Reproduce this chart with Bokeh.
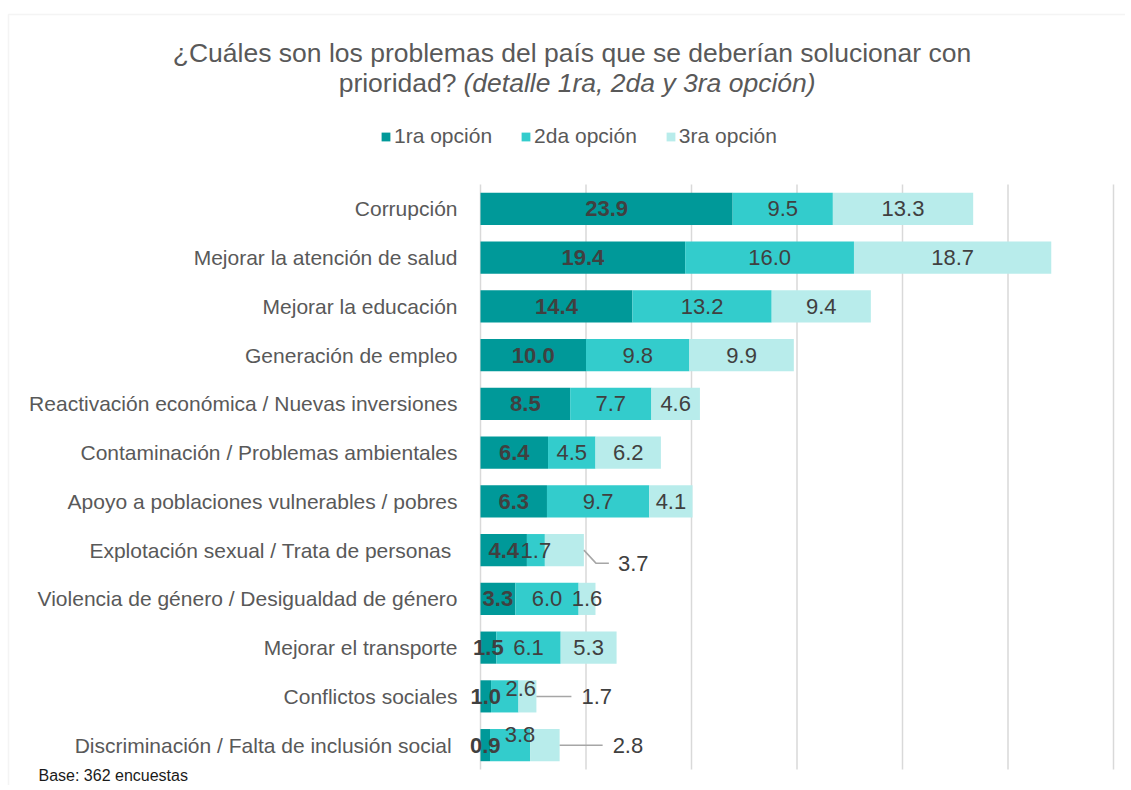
from bokeh.plotting import figure
from bokeh.models import (ColumnDataSource, Range1d, Label, Legend, LegendItem,
                          BoxAnnotation)
from bokeh.core.properties import value
from bokeh.embed import file_html
from bokeh.resources import INLINE

# ---------------- data ----------------
categories = [
    "Corrupción",
    "Mejorar la atención de salud",
    "Mejorar la educación",
    "Generación de empleo",
    "Reactivación económica / Nuevas inversiones",
    "Contaminación / Problemas ambientales",
    "Apoyo a poblaciones vulnerables / pobres",
    "Explotación sexual  / Trata de personas",
    "Violencia de género / Desigualdad de género",
    "Mejorar el transporte",
    "Conflictos sociales",
    "Discriminación  / Falta de inclusión social",
]
opcion1 = [23.9, 19.4, 14.4, 10.0, 8.5, 6.4, 6.3, 4.4, 3.3, 1.5, 1.0, 0.9]
opcion2 = [9.5, 16.0, 13.2, 9.8, 7.7, 4.5, 9.7, 1.7, 6.0, 6.1, 2.6, 3.8]
opcion3 = [13.3, 18.7, 9.4, 9.9, 4.6, 6.2, 4.1, 3.7, 1.6, 5.3, 1.7, 2.8]
series_names = ["1ra opción", "2da opción", "3ra opción"]
x_ticks = [0, 10, 20, 30, 40, 50, 60]

title_line1 = "¿Cuáles son los problemas del país que se deberían solucionar con"
title_line2a = "prioridad?"
title_line2b = "(detalle 1ra, 2da y 3ra opción)"
base_note = "Base: 362 encuestas"

# ---------------- styles / layout ----------------
colors = ["#009999", "#33CCCC", "#B8ECEB"]
FONT = "Liberation Sans"
GRAY = "#595959"
DARK = "#404040"

W, H = 1125, 785
PL, PT, PW, PH = 480, 184, 633, 585      # plot area in canvas pixels
KX = PW / 60.0                           # px per percentage point
n = len(categories)
KY = PH / n                              # px per category row

lab2_dx = {10: 16, 11: 10}
lab2_dy = {10: 8, 11: 11}
callout_rows = {7: (12, 13, 25, 34), 10: (0, 0, 35, 45), 11: (0, 0, 43, 53)}

p = figure(width=W, height=H, output_backend="svg", toolbar_location=None,
           x_axis_type=None, y_axis_type=None, min_border=0,
           x_range=Range1d(-PL / KX, (W - PL) / KX),
           y_range=Range1d((H - PT) / KY, -PT / KY))
p.outline_line_color = None
p.background_fill_color = "white"
p.border_fill_color = "white"
p.grid.visible = False

rows = [i + 0.5 for i in range(n)]

# vertical grid lines over the plot area
p.segment(x0=x_ticks, x1=x_ticks, y0=[0] * len(x_ticks), y1=[n] * len(x_ticks),
          line_color="#D9D9D9", line_width=1.5)

src = ColumnDataSource(dict(row=rows, o1=opcion1, o2=opcion2, o3=opcion3))
renderers = p.hbar_stack(["o1", "o2", "o3"], y="row", height=0.66, color=colors,
                         line_color=None, source=src)

# category labels
p.text(x=[0] * n, y=rows, text=categories, x_offset=-23, text_align="right",
       text_baseline="middle", text_font=value(FONT), text_font_size="21px",
       text_color=GRAY)

# data labels
c1 = [opcion1[i] / 2 for i in range(n)]
c2 = [opcion1[i] + opcion2[i] / 2 for i in range(n)]
c3 = [opcion1[i] + opcion2[i] + opcion3[i] / 2 for i in range(n)]
ends = [opcion1[i] + opcion2[i] + opcion3[i] for i in range(n)]

def fmt(v):
    return f"{v:.1f}"

LFS = "22px"
p.text(x=c1, y=rows, text=[fmt(v) for v in opcion1], text_align="center",
       text_baseline="middle", text_font=value(FONT), text_font_size=LFS,
       text_font_style="bold", text_color=DARK)

p.text(x=c2, y=rows, text=[fmt(v) for v in opcion2],
       x_offset=[lab2_dx.get(i, 0) for i in range(n)],
       y_offset=[-lab2_dy.get(i, 0) for i in range(n)],
       text_align="center", text_baseline="middle",
       text_font=value(FONT), text_font_size=LFS, text_color=DARK)

idx_in = [i for i in range(n) if i not in callout_rows]
p.text(x=[c3[i] for i in idx_in], y=[rows[i] for i in idx_in],
       text=[fmt(opcion3[i]) for i in idx_in], text_align="center",
       text_baseline="middle", text_font=value(FONT), text_font_size=LFS,
       text_color=DARK)

xs, ys, tx, ty, tt = [], [], [], [], []
for i, (bx, by, hx, lx) in callout_rows.items():
    yc = rows[i]
    e = ends[i]
    xs.append([e, e + bx / KX, e + hx / KX])
    ys.append([yc, yc + by / KY, yc + by / KY])
    tx.append(e + lx / KX)
    ty.append(yc + by / KY)
    tt.append(fmt(opcion3[i]))
p.multi_line(xs=xs, ys=ys, line_color="#A6A6A6", line_width=1.5)
p.text(x=tx, y=ty, text=tt, text_align="left", text_baseline="middle",
       text_font=value(FONT), text_font_size=LFS, text_color=DARK)

# titles and note
def lab(x, y, text, align, size, style="normal", color=GRAY):
    p.add_layout(Label(x=x, y=H - y, x_units="screen", y_units="screen", text=text,
                       text_align=align, text_baseline="middle", text_font=FONT,
                       text_font_size=size, text_font_style=style, text_color=color))

lab(571.5, 52, title_line1, "center", "26.5px")
lab(456, 82, title_line2a, "right", "26.5px")
lab(463, 82, title_line2b, "left", "26.5px", "italic")
lab(38, 775, base_note, "left", "16px", "normal", "#1a1a1a")

# chart frame border (left and top edges)
p.add_layout(BoxAnnotation(left=(8 - PL) / KX, right=200, top=(14 - PT) / KY, bottom=100,
                           fill_alpha=0, line_color="#D9D9D9", line_width=1.5))

legend = Legend(items=[LegendItem(label=series_names[k], renderers=[renderers[k]])
                       for k in range(3)],
                orientation="horizontal", location=(380, H - 148),
                border_line_color=None, background_fill_alpha=0, padding=0, margin=0,
                spacing=28, glyph_width=11, glyph_height=11, label_standoff=3,
                label_text_font=FONT, label_text_font_size="21px",
                label_text_color=GRAY)
p.add_layout(legend)

open("out.html", "w").write(file_html(p, INLINE))
